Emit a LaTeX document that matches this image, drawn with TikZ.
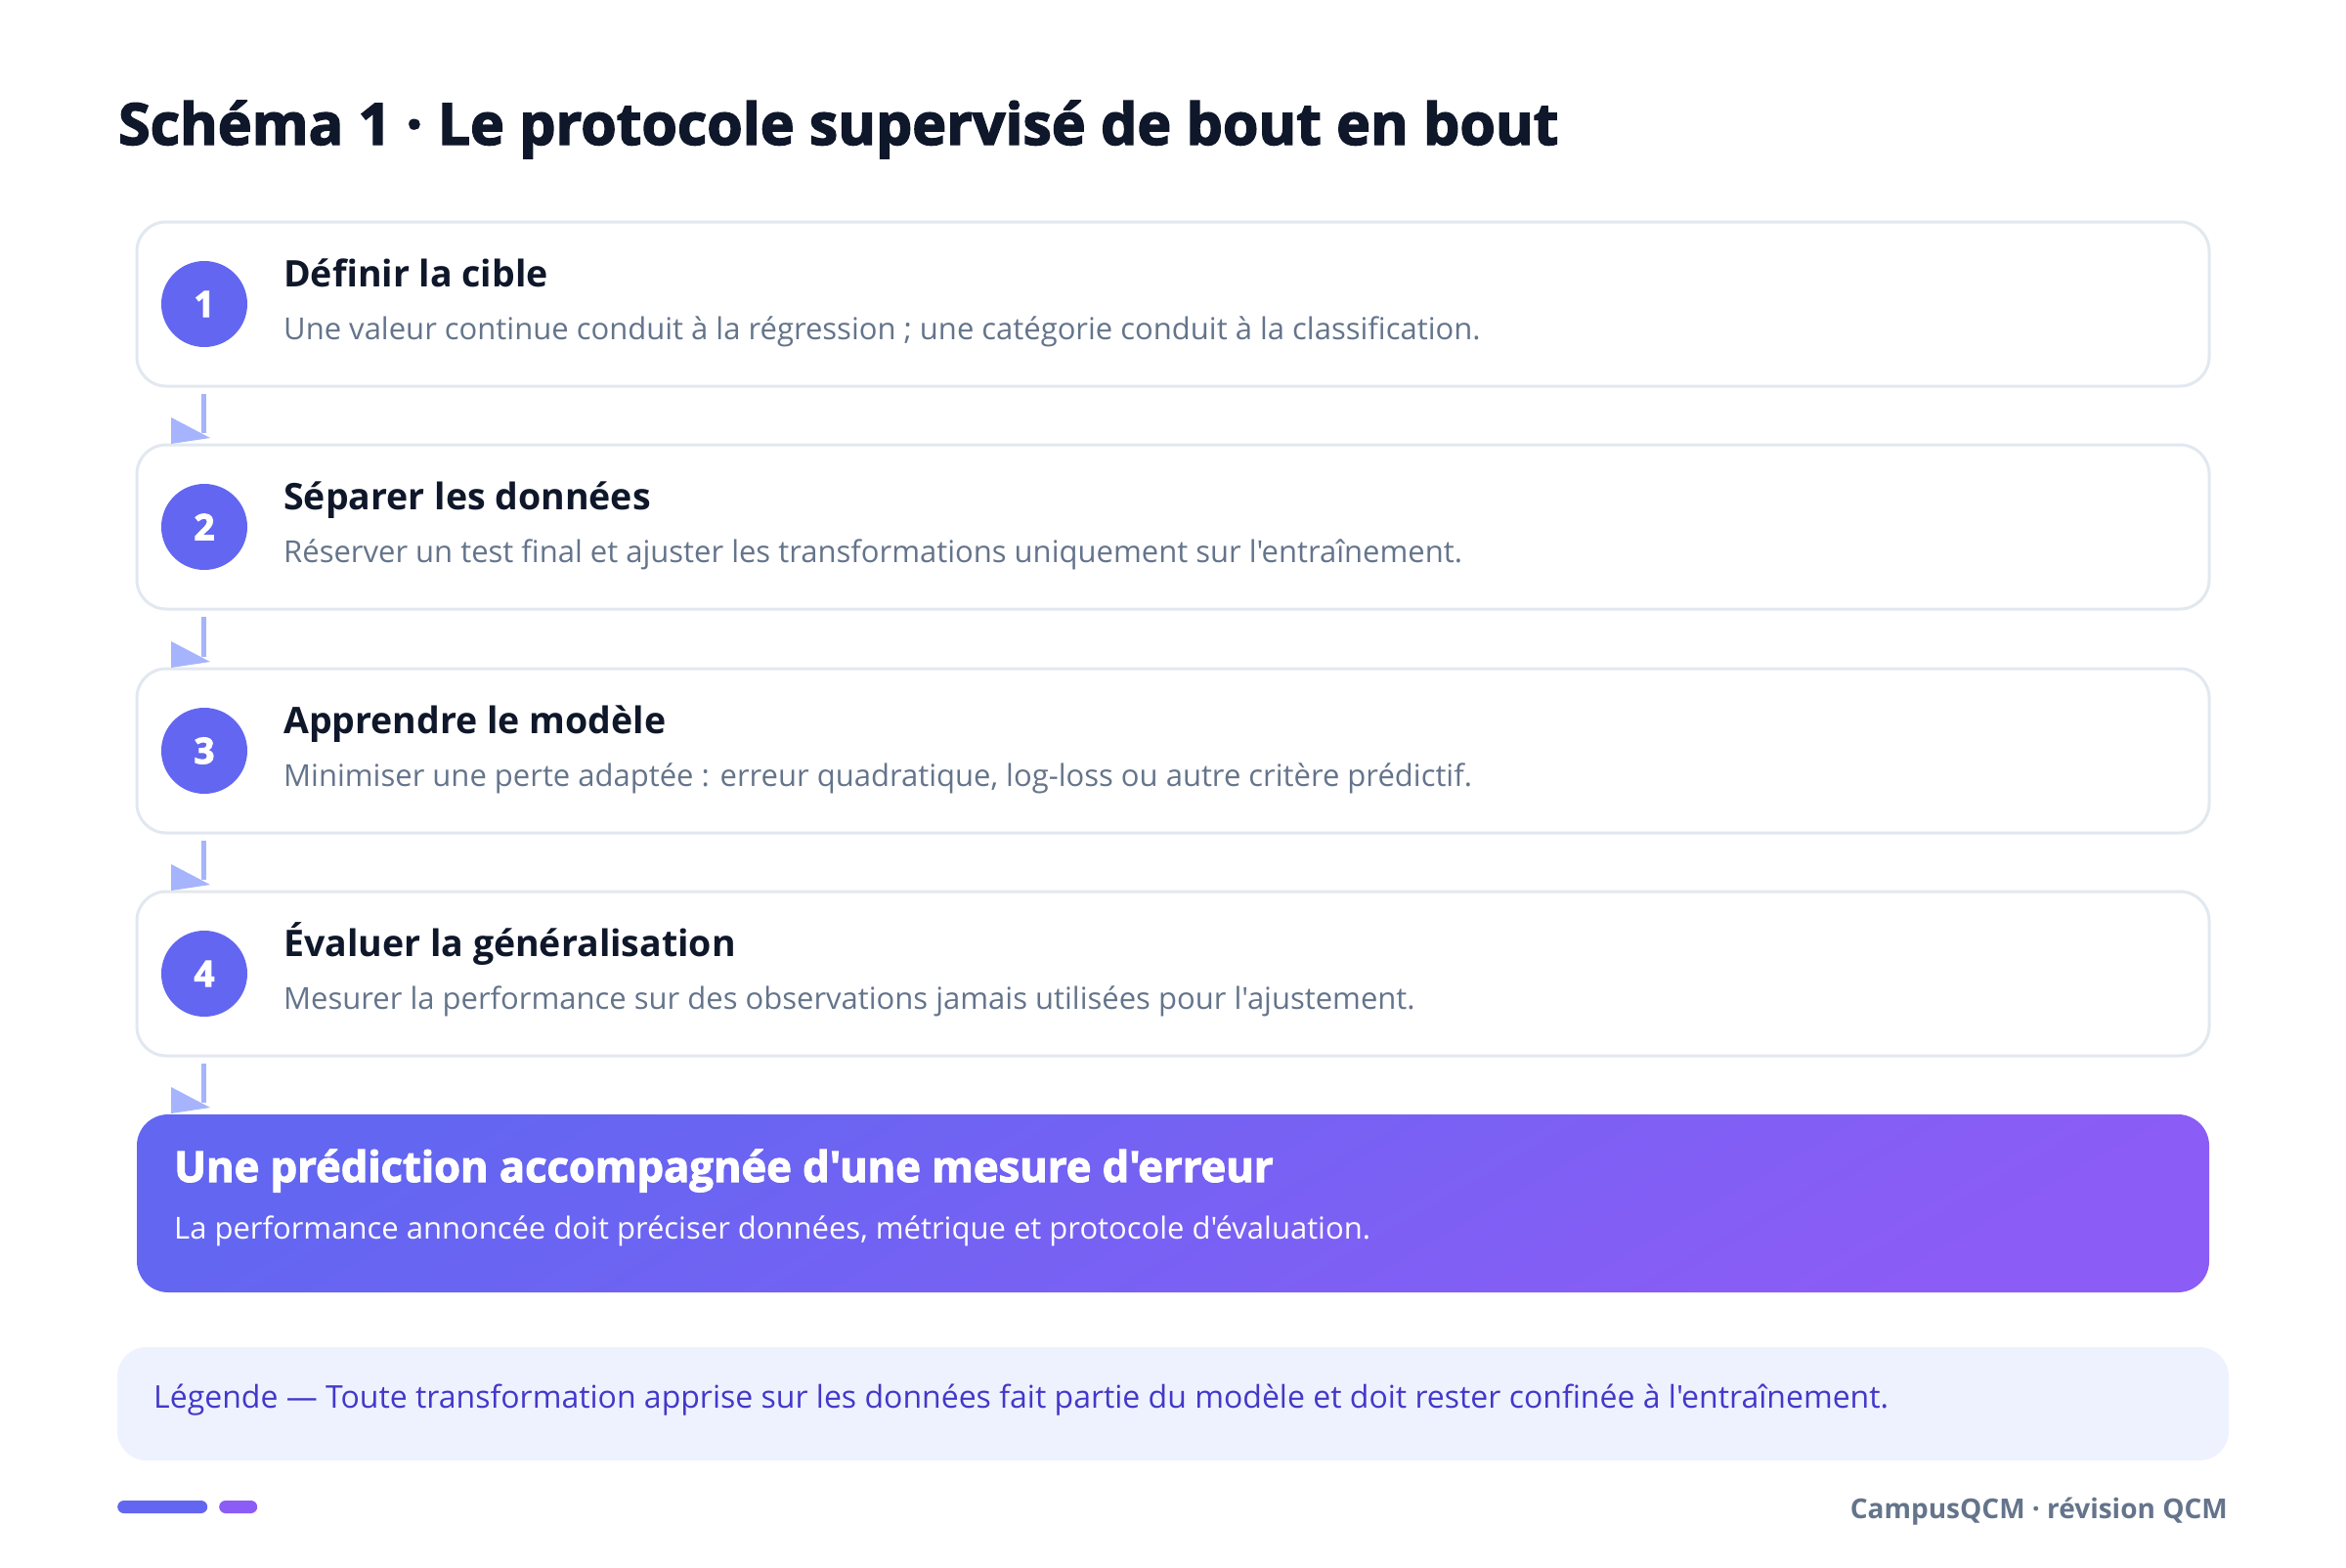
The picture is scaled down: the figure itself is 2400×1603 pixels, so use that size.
\documentclass[tikz,border=0pt]{standalone}
\usepackage{fontspec}
\setmainfont{Open Sans}[Ligatures=TeXOff]
\newfontfamily\heavy{Open Sans}[BoldFeatures={FakeBold=2.5}]
\usetikzlibrary{calc}
\definecolor{ink}{HTML}{0F172A}
\definecolor{slate}{HTML}{64748B}
\definecolor{border}{HTML}{E2E8F0}
\definecolor{indigo}{HTML}{6366F1}
\definecolor{violet}{HTML}{8B5CF6}
\definecolor{arrowc}{HTML}{A5B4FC}
\definecolor{legfill}{HTML}{EEF2FF}
\definecolor{legtext}{HTML}{4338CA}
\tikzset{
  stepbox/.style={draw=border, line width=3pt, fill=white, rounded corners=30pt,
    minimum width=2120pt, minimum height=168pt, inner sep=0pt, outer sep=0pt},
  numdot/.style={circle, fill=indigo, minimum size=88pt, inner sep=0pt, text=white,
    font=\fontsize{37}{40}\selectfont\heavy\bfseries},
  steptitle/.style={anchor=base west, inner sep=0pt, text=ink,
    font=\fontsize{37.5}{42}\selectfont\bfseries},
  stepdesc/.style={anchor=base west, inner sep=0pt, text=slate,
    font=\fontsize{31}{36}\selectfont},
  conn/.style={draw=arrowc, line width=5pt},
  tip/.style={fill=arrowc},
}
\begin{document}
\begin{tikzpicture}[x=1pt,y=-1pt]
\fill[white] (0,0) rectangle (2400,1603);
\useasboundingbox (0,0) rectangle (2400,1603);

\node[anchor=base west, inner sep=0pt, text=ink, font=\fontsize{59}{64}\selectfont\heavy\bfseries] (title) at (121,148) {Schéma 1 · Le protocole supervisé de bout en bout};

\node[stepbox] (s1) at (1200,311) {};
\node[stepbox] (s2) at (1200,539) {};
\node[stepbox] (s3) at (1200,768) {};
\node[stepbox] (s4) at (1200,996) {};

\foreach \i/\t/\d in {
  1/{Définir la cible}/{Une valeur continue conduit à la régression ; une catégorie conduit à la classification.},
  2/{Séparer les données}/{Réserver un test final et ajuster les transformations uniquement sur l'entraînement.},
  3/{Apprendre le modèle}/{Minimiser une perte adaptée : erreur quadratique, log-loss ou autre critère prédictif.},
  4/{Évaluer la généralisation}/{Mesurer la performance sur des observations jamais utilisées pour l'ajustement.}}{
  \node[numdot] (n\i) at ($(s\i.west)+(69,0)$) {\i};
  \node[steptitle] (t\i) at ($(s\i.north west)+(150,66)$) {\t};
  \node[stepdesc] (d\i) at ($(s\i.north west)+(150,120)$) {\d};
}

\node[rounded corners=32pt, top color=indigo, bottom color=violet, shading angle=30,
  minimum width=2120pt, minimum height=182pt, inner sep=0pt, outer sep=0pt] (fin) at (1200,1231) {};
\node[anchor=base west, inner sep=0pt, text=white, font=\fontsize{43.5}{50}\selectfont\heavy\bfseries] (fint) at ($(fin.north west)+(38,69)$) {Une prédiction accompagnée d'une mesure d'erreur};
\node[anchor=base west, inner sep=0pt, text=white, font=\fontsize{31}{36}\selectfont] (find) at ($(fin.north west)+(38,127)$) {La performance annoncée doit préciser données, métrique et protocole d'évaluation.};

\foreach \a/\b in {s1/s2, s2/s3, s3/s4, s4/fin}{
  \draw[conn] ($(\a.south west)+(68,8)$) -- ($(\b.north west)+(68,-12)$);
  \fill[tip] ($(\b.north west)+(35,-28)$) -- ($(\b.north west)+(35,-1)$) -- ($(\b.north west)+(75,-7)$) -- cycle;
}

\node[fill=legfill, rounded corners=30pt, minimum width=2160pt, minimum height=116pt, inner sep=0pt, outer sep=0pt] (leg) at (1200,1436) {};
\node[anchor=base west, inner sep=0pt, text=legtext, font=\fontsize{32}{36}\selectfont] (legt) at ($(leg.north west)+(37,62)$) {Légende — Toute transformation apprise sur les données fait partie du modèle et doit rester confinée à l'entraînement.};

\node[fill=indigo, rounded corners=6.5pt, minimum width=92pt, minimum height=13pt, inner sep=0pt, anchor=west] (bar1) at (120,1541.5) {};
\node[fill=violet, rounded corners=6.5pt, minimum width=39pt, minimum height=13pt, inner sep=0pt, anchor=west] (bar2) at (224,1541.5) {};

\node[anchor=base east, inner sep=0pt, text=slate, font=\fontsize{28}{32}\selectfont\bfseries] (foot) at (2279,1553) {CampusQCM · révision QCM};
\end{tikzpicture}
\end{document}
